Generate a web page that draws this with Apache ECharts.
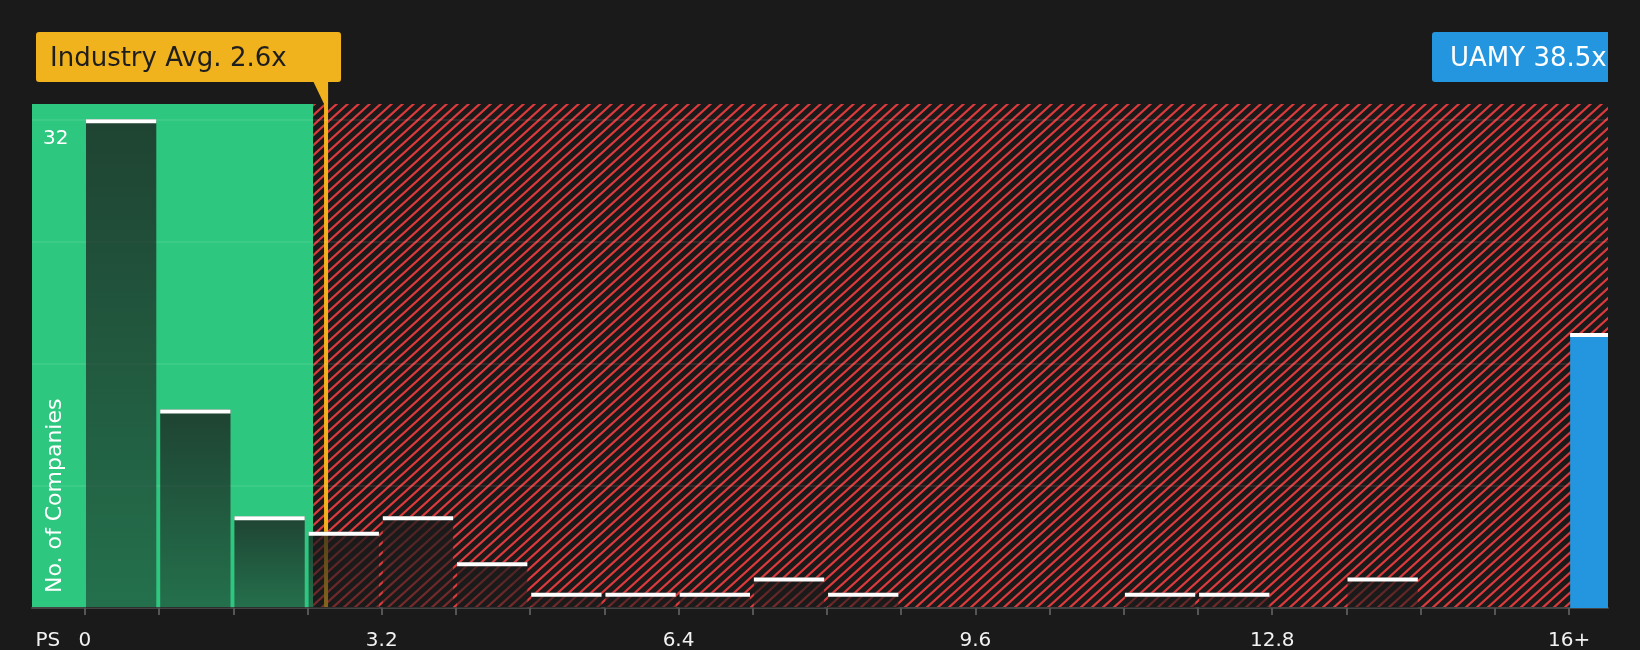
<!DOCTYPE html>
<html>
<head>
<meta charset="utf-8">
<title>UAMY PS vs industry</title>
<script src="https://cdn.jsdelivr.net/npm/echarts@6/dist/echarts.min.js"></script>
<style>
  html, body { margin: 0; padding: 0; background: #1a1a1a; }
  #chart { width: 1640px; height: 650px; }
</style>
</head>
<body>
<div id="chart"></div>
<script>
// histogram bins (start of each 0.8 wide bin) and company counts
const binStarts = [0, 0.8, 1.6, 2.4, 3.2, 4.0, 4.8, 5.6, 6.4, 7.2, 8.0, 8.8, 9.6, 10.4, 11.2, 12.0, 12.8, 13.6, 14.4, 15.2]
const binCounts = [32, 13, 6, 5, 6, 3, 1, 1, 1, 2, 1, 0, 0, 0, 1, 1, 0, 2, 0, 0]
const overflowBin = [16, 18]          // the "16+" bin, where UAMY sits
const tickValues = [0, 0.8, 1.6, 2.4, 3.2, 4.0, 4.8, 5.6, 6.4, 7.2, 8.0, 8.8, 9.6, 10.4, 11.2, 12.0, 12.8, 13.6, 14.4, 15.2, 16]
const labelValues = [-0.4, 0, 3.2, 6.4, 9.6, 12.8, 16]
const industryAvg = 2.6
const companyPS = 38.5
const fairEdge = 2.46                 // end of the green zone
const X_MIN = -0.57, X_MAX = 16.42, Y_MAX = 33
const BIN = 0.8

const FONT = "'DejaVu Sans', Verdana, sans-serif"
const GREEN = '#2ec77f', RED = '#dc3a3c', ORANGE = '#f0b21d', BLUE = '#2496e0', BG = '#1a1a1a'

// red diagonal hatch tile
function hatchTile(){
    var w = 11, h = 10
    var c = document.createElement('canvas')
    c.width = w; c.height = h
    var ctx = c.getContext('2d')
    ctx.fillStyle = BG
    ctx.fillRect(0, 0, w, h)
    ctx.strokeStyle = RED
    ctx.lineWidth = 2.2
    ctx.beginPath()
    ctx.moveTo(0, h); ctx.lineTo(w, 0)
    ctx.moveTo(-w / 2, h / 2); ctx.lineTo(w / 2, -h / 2)
    ctx.moveTo(w / 2, h * 1.5); ctx.lineTo(w * 1.5, h / 2)
    ctx.stroke()
    return c
}
const hatch = { image: hatchTile(), repeat: 'repeat' }

const zones = [[X_MIN, fairEdge, 0], [fairEdge, X_MAX, 1]]
const bars = binStarts.map((s, i) => [s, binCounts[i]])

function renderZone(params, api){
    var p0 = api.coord([api.value(0), Y_MAX])
    var p1 = api.coord([api.value(1), 0])
    return {
        type: 'rect',
        shape: { x: p0[0], y: p0[1], width: p1[0] - p0[0], height: p1[1] - p0[1] },
        style: { fill: api.value(2) === 0 ? GREEN : hatch }
    }
}

function barShape(api, x0, x1, v, fill){
    var p0 = api.coord([x0, v])
    var p1 = api.coord([x1, 0])
    return {
        type: 'group',
        children: [
            { type: 'rect', shape: { x: p0[0], y: p0[1], width: p1[0] - p0[0], height: p1[1] - p0[1] }, style: { fill: fill } },
            { type: 'rect', shape: { x: p0[0], y: p0[1], width: p1[0] - p0[0], height: 4 }, style: { fill: '#ffffff' } }
        ]
    }
}

function renderBar(params, api){
    var v = api.value(1)
    if (!v) return
    var s = api.value(0)
    var fill = new echarts.graphic.LinearGradient(0, 0, 0, 1, [
        { offset: 0, color: 'rgba(26,26,26,0.76)' },
        { offset: 1, color: 'rgba(26,26,26,0.5)' }
    ])
    return barShape(api, s + 0.012, s + BIN - 0.03, v, fill)
}

function renderOverflow(params, api){
    return barShape(api, api.value(0) + 0.012, X_MAX, api.value(1), BLUE)
}

var myChart = echarts.init(document.getElementById('chart'))
myChart.setOption({
    backgroundColor: BG,
    animation: false,
    grid: { left: 32, right: 32, top: 104, bottom: 42, outerBoundsMode: 'none' },
    xAxis: {
        type: 'value',
        min: X_MIN,
        max: X_MAX,
        z: 3,
        splitLine: { show: false },
        axisLine: { show: true, lineStyle: { color: '#444444', width: 2 } },
        axisTick: { show: true, customValues: tickValues, length: 7, lineStyle: { color: '#555555', width: 2 } },
        axisLabel: {
            customValues: labelValues,
            margin: 23,
            color: '#f2f2f2',
            fontFamily: FONT,
            fontSize: 20,
            formatter: function(v){
                if (v < 0) return 'PS'
                if (v >= 16) return '16+'
                return String(v)
            }
        }
    },
    yAxis: {
        type: 'value',
        min: 0,
        max: Y_MAX,
        interval: 8,
        z: 3,
        axisLine: { show: false },
        axisTick: { show: false },
        splitLine: { lineStyle: { color: ['rgba(255,255,255,0.1)', 'rgba(255,255,255,0.1)', 'rgba(255,255,255,0.1)', 'rgba(255,255,255,0.1)', 'rgba(255,255,255,0.1)', 'rgba(0,0,0,0)'], width: 1.5 } },
        axisLabel: {
            customValues: [32],
            inside: true,
            margin: 11,
            verticalAlign: 'top',
            padding: [10, 0, 0, 0],
            color: '#ffffff',
            fontFamily: FONT,
            fontSize: 20
        }
    },
    series: [
        { type: 'custom', name: 'zones', z: 1, silent: true, renderItem: renderZone, data: zones },
        { type: 'custom', name: 'companies', z: 4, silent: true, renderItem: renderBar, data: bars },
        { type: 'custom', name: 'UAMY', z: 4, silent: true, renderItem: renderOverflow, data: [overflowBin] }
    ]
})

// annotation boxes placed from the axes
function addNotes(){
    var lx = myChart.convertToPixel({ xAxisIndex: 0 }, industryAvg)
    var xRight = myChart.convertToPixel({ xAxisIndex: 0 }, X_MAX)
    var xLeft = myChart.convertToPixel({ xAxisIndex: 0 }, X_MIN)
    var yTop = myChart.convertToPixel({ yAxisIndex: 0 }, Y_MAX)
    var yBase = myChart.convertToPixel({ yAxisIndex: 0 }, 0)
    var boxTop = 32, boxH = 50, boxBottom = boxTop + boxH

    myChart.setOption({
        graphic: [
            { type: 'line', z: 2, silent: true, shape: { x1: lx, y1: boxBottom, x2: lx, y2: yBase }, style: { stroke: ORANGE, lineWidth: 4 } },
            { type: 'polygon', z: 6, silent: true, shape: { points: [[lx - 13, boxBottom - 1], [lx + 2, boxBottom - 1], [lx + 2, yTop], [lx - 2, yTop]] }, style: { fill: ORANGE } },
            { type: 'rect', z: 6, silent: true, shape: { x: xLeft + 4, y: boxTop, width: lx + 15 - xLeft - 4, height: boxH, r: 3 }, style: { fill: ORANGE } },
            { type: 'text', z: 7, silent: true, x: xLeft + 18, y: boxTop + boxH / 2 + 2, style: { text: 'Industry Avg. ' + industryAvg + 'x', fill: '#1e1e1e', font: '26px ' + FONT, verticalAlign: 'middle' } },
            { type: 'rect', z: 6, silent: true, shape: { x: xRight - 176, y: boxTop, width: 176, height: boxH, r: [3, 0, 0, 3] }, style: { fill: BLUE } },
            { type: 'text', z: 7, silent: true, x: xRight - 158, y: boxTop + boxH / 2 + 2, style: { text: 'UAMY ' + companyPS + 'x', fill: '#ffffff', font: '26px ' + FONT, verticalAlign: 'middle' } },
            { type: 'text', z: 7, silent: true, x: xLeft + 23, y: yBase - 15, rotation: Math.PI / 2, style: { text: 'No. of Companies', fill: '#ffffff', font: '22px ' + FONT, verticalAlign: 'middle', align: 'left' } }
        ]
    })
}
addNotes()
</script>
</body>
</html>
